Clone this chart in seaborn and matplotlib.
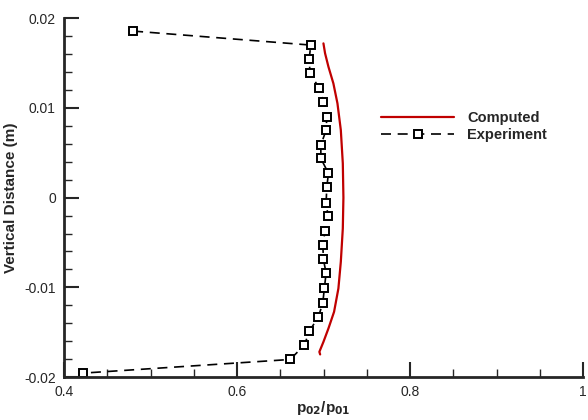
import numpy as np
import pandas as pd
import seaborn as sns
import matplotlib.pyplot as plt
from matplotlib.ticker import MultipleLocator, FuncFormatter

# experiment (p02/p01 vs vertical distance)
exp_ratio = [0.4798, 0.6852, 0.6832, 0.6844, 0.6951, 0.6998, 0.7037, 0.7029, 0.6968, 0.6968,
             0.7056, 0.7037, 0.7029, 0.7052, 0.7017, 0.6991, 0.6998, 0.7029, 0.7009, 0.6991,
             0.6940, 0.6836, 0.6778, 0.6613, 0.422]
exp_y = [0.01855, 0.01699, 0.0154, 0.01384, 0.01217, 0.01067, 0.0090, 0.00752, 0.00585, 0.00437,
         0.0027, 0.0012, -0.00058, -0.00206, -0.0037, -0.00529, -0.00689, -0.00841, -0.01005, -0.01172,
         -0.01328, -0.01487, -0.01643, -0.01803, -0.01955]

# computed profile
comp_ratio = [0.6998, 0.7017, 0.7056, 0.7113, 0.7160, 0.7199, 0.7222, 0.7229, 0.7222, 0.7199,
              0.7171, 0.7121, 0.7056, 0.6998, 0.6951, 0.6960]
comp_y = [0.01718, 0.01607, 0.01457, 0.01272, 0.0105, 0.00752, 0.00381, 0.0, -0.00343, -0.00715,
          -0.01012, -0.01272, -0.01457, -0.01607, -0.01718, -0.01747]

sns.set_style("ticks")
plt.rcParams['font.family'] = ['Liberation Sans', 'DejaVu Sans']

fig = plt.figure(figsize=(5.88, 4.2), dpi=100)
ax = fig.add_axes([0.109, 0.102, 0.8827, 0.855])

comp = pd.DataFrame({"ratio": comp_ratio, "y": comp_y})
exp = pd.DataFrame({"ratio": exp_ratio, "y": exp_y})

sns.lineplot(data=comp, x="ratio", y="y", sort=False, estimator=None, color="#c00000",
             linewidth=1.6, ax=ax, label="Computed")
sns.lineplot(data=exp, x="ratio", y="y", sort=False, estimator=None, color="black",
             linewidth=1.2, linestyle=(0, (6, 4)), marker="s", markersize=6,
             markerfacecolor="white", markeredgecolor="black", markeredgewidth=1.4,
             ax=ax, label="Experiment")

ax.set_xlim(0.4, 1.0)
ax.set_ylim(-0.02, 0.02)
ax.xaxis.set_major_locator(MultipleLocator(0.2))
ax.xaxis.set_minor_locator(MultipleLocator(0.05))
ax.yaxis.set_major_locator(MultipleLocator(0.01))
ax.yaxis.set_minor_locator(MultipleLocator(0.002))
ax.xaxis.set_major_formatter(FuncFormatter(lambda v, p: f"{v:g}"))
ax.yaxis.set_major_formatter(FuncFormatter(lambda v, p: "0" if abs(v) < 1e-9 else f"{v:.2f}"))
ax.tick_params(which="major", direction="in", length=11, width=1.5, labelsize=10, pad=6)
ax.tick_params(which="minor", direction="in", length=6, width=1)

sns.despine(ax=ax)
for s in ["left", "bottom"]:
    ax.spines[s].set_linewidth(2)

ax.set_xlabel("p$_{\\mathbf{02}}$/p$_{\\mathbf{01}}$", fontsize=11, fontweight="bold", labelpad=0)
ax.set_ylabel("Vertical Distance (m)", fontsize=11, fontweight="bold", labelpad=4)

leg = ax.legend(loc="upper left", bbox_to_anchor=(0.6, 0.757), frameon=False,
                handlelength=5, prop={"weight": "bold", "size": 10.5},
                handletextpad=0.9, labelspacing=0.2, borderaxespad=0)

fig.savefig("out.png", dpi=100)
